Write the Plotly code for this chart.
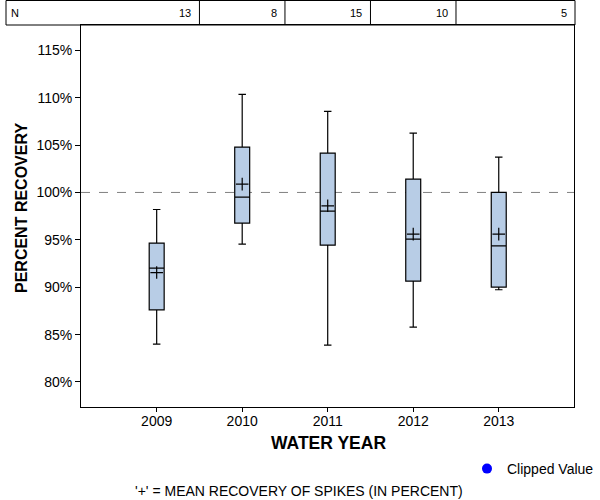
import plotly.graph_objects as go

# ---- data ----
years = [2009, 2010, 2011, 2012, 2013]
n_counts = [13, 8, 15, 10, 5]
upper_whisker = [98.2, 110.35, 108.55, 106.27, 103.73]
q3_vals = [94.66, 104.79, 104.16, 101.41, 100.0]
median_vals = [92.01, 99.51, 98.03, 95.08, 94.37]
q1_vals = [87.61, 96.77, 94.44, 90.64, 90.01]
lower_whisker = [83.99, 94.55, 83.88, 85.78, 89.73]
mean_vals = [91.55, 100.88, 98.59, 95.6, 95.6]
y_ticks = [80, 85, 90, 95, 100, 105, 110, 115]
y_tick_labels = [f"{v}%" for v in y_ticks]

FONT = "Liberation Sans, Arial, sans-serif"
W, H = 600, 500
ML, MR, MT, MB = 81, 26, 25, 93
PW = W - ML - MR
PH = H - MT - MB


def px_x(p):
    return (p - ML) / PW


def px_y(p):
    return 1 - (p - MT) / PH


fig = go.Figure()

fig.add_trace(go.Box(
    x=years, q1=q1_vals, median=median_vals, q3=q3_vals,
    lowerfence=lower_whisker, upperfence=upper_whisker,
    width=0.175, whiskerwidth=0.5,
    fillcolor="#b8cde6", line=dict(color="black", width=1.2),
    boxpoints=False, showlegend=False, hoverinfo="skip",
))

fig.add_trace(go.Scatter(
    x=years, y=mean_vals, mode="markers",
    marker=dict(symbol="cross-thin", size=9, line=dict(color="black", width=1.2)),
    showlegend=False, hoverinfo="skip",
))

fig.add_trace(go.Scatter(
    x=[None], y=[None], mode="markers", name="Clipped Value",
    marker=dict(color="#0000ff", size=10, symbol="circle"),
))

# 100% reference line
fig.add_shape(type="line", xref="paper", yref="y", x0=0, x1=1, y0=100, y1=100,
              line=dict(color="#808080", width=1, dash="dash"), layer="below")

# N table
fig.add_shape(type="rect", xref="paper", yref="paper",
              x0=px_x(6), x1=px_x(575), y0=1, y1=px_y(0.5),
              line=dict(color="black", width=1))
for i in range(len(years) - 1):
    xb = (years[i] + years[i + 1]) / 2
    fig.add_shape(type="line", xref="x", yref="paper", x0=xb, x1=xb, y0=1, y1=px_y(0.5),
                  line=dict(color="black", width=1))

fig.add_annotation(x=px_x(9), y=px_y(13), xref="paper", yref="paper", text="N",
                   showarrow=False, xanchor="left", yanchor="middle",
                   font=dict(family=FONT, size=11, color="black"))
for i, (yr, n) in enumerate(zip(years, n_counts)):
    if i < len(years) - 1:
        xr = (years[i] + years[i + 1]) / 2
        fig.add_annotation(x=xr, y=px_y(13), xref="x", yref="paper", text=str(n),
                           showarrow=False, xanchor="right", yanchor="middle", xshift=-6,
                           font=dict(family=FONT, size=11, color="black"))
    else:
        fig.add_annotation(x=px_x(575), y=px_y(13), xref="paper", yref="paper", text=str(n),
                           showarrow=False, xanchor="right", yanchor="middle", xshift=-6,
                           font=dict(family=FONT, size=11, color="black"))

# axis titles and footnote
fig.add_annotation(x=px_x(21), y=px_y(208), xref="paper", yref="paper",
                   text="<b>PERCENT RECOVERY</b>", textangle=-90, showarrow=False,
                   xanchor="center", yanchor="middle",
                   font=dict(family=FONT, size=16, color="black"))
fig.add_annotation(x=px_x(328), y=px_y(443), xref="paper", yref="paper",
                   text="<b>WATER YEAR</b>", showarrow=False,
                   xanchor="center", yanchor="middle",
                   font=dict(family=FONT, size=17.5, color="black"))
fig.add_annotation(x=px_x(299), y=px_y(491), xref="paper", yref="paper",
                   text="'+' = MEAN RECOVERY OF SPIKES (IN PERCENT)", showarrow=False,
                   xanchor="center", yanchor="middle",
                   font=dict(family=FONT, size=14, color="black"))

fig.update_layout(
    width=W, height=H,
    margin=dict(l=ML, r=MR, t=MT, b=MB, pad=0, autoexpand=False),
    paper_bgcolor="white", plot_bgcolor="white",
    font=dict(family=FONT, size=14, color="black"),
    showlegend=True,
    legend=dict(x=px_x(467), y=px_y(453), xanchor="left", yanchor="top",
                bgcolor="rgba(0,0,0,0)", borderwidth=0,
                font=dict(family=FONT, size=14, color="black")),
    xaxis=dict(range=[2008.115, 2013.88], tickvals=years, ticktext=[str(y) for y in years],
               showgrid=False, zeroline=False, showline=True, linecolor="black", linewidth=1,
               mirror=True, ticks="outside", ticklen=4, tickcolor="black",
               ticklabelstandoff=-3, automargin=False,
               tickfont=dict(family=FONT, size=14, color="black")),
    yaxis=dict(range=[77.36, 117.67], tickvals=y_ticks, ticktext=y_tick_labels,
               showgrid=False, zeroline=False, showline=True, linecolor="black", linewidth=1,
               mirror=True, ticks="outside", ticklen=5, tickcolor="black", automargin=False,
               tickfont=dict(family=FONT, size=14, color="black")),
)

fig.write_html("out.html", config={"displayModeBar": False},
               post_script="document.body.style.margin='0';document.body.style.padding='0';")
